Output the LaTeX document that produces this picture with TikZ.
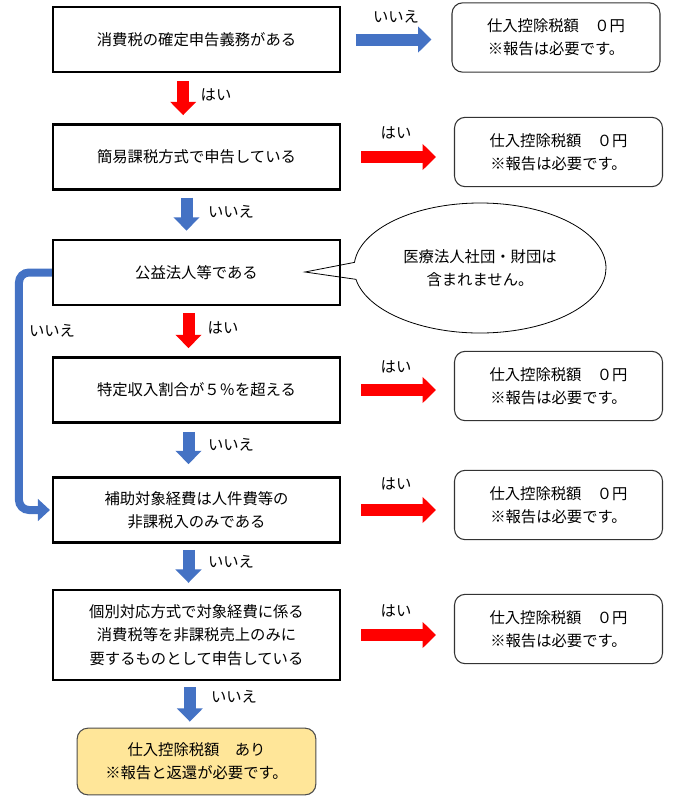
\documentclass[tikz,border=0pt]{standalone}
\usepackage{fontspec}
\setmainfont{Noto Sans CJK JP}
\usetikzlibrary{arrows.meta,shapes.callouts}
\definecolor{yesred}{HTML}{FF0000}
\definecolor{noblue}{HTML}{4472C4}
\definecolor{endfill}{HTML}{FFE699}
\begin{document}
\begin{tikzpicture}[x=0.75pt,y=-0.75pt,font=\fontsize{11.5}{17.5}\selectfont,
  step node/.style={rectangle,draw,line width=1.8pt,minimum width=215pt,minimum height=49pt,align=center},
  result node/.style={rectangle,rounded corners=8pt,draw=black!80,line width=0.8pt,minimum width=156pt,minimum height=52pt,align=center},
  yes arrow/.style={draw=yesred,line width=9pt,-{Triangle[length=10pt,width=19pt]}},
  no arrow/.style={draw=noblue,line width=9pt,-{Triangle[length=10pt,width=19pt]}},
  answer/.style={inner sep=1pt}]

  \useasboundingbox (0,0) rectangle (675,800);

  % questions
  \node[step node] (q1) at (196.5,39.5) {消費税の確定申告義務がある};
  \node[step node] (q2) at (196.5,157) {簡易課税方式で申告している};
  \node[step node] (q3) at (196.5,272.5) {公益法人等である};
  \node[step node] (q4) at (196.5,390) {特定収入割合が５％を超える};
  \node[step node] (q5) at (196.5,510) {補助対象経費は人件費等の\\非課税入のみである};
  \node[step node,minimum height=67.5pt] (q6) at (196.5,635) {個別対応方式で対象経費に係る\\消費税等を非課税売上のみに\\要するものとして申告している};

  % results
  \node[result node] (r1) at (556,37.5) {仕入控除税額　０円\\※報告は必要です。};
  \node[result node] (r2) at (558.5,152) {仕入控除税額　０円\\※報告は必要です。};
  \node[result node] (r4) at (558.5,386) {仕入控除税額　０円\\※報告は必要です。};
  \node[result node] (r5) at (558.5,505) {仕入控除税額　０円\\※報告は必要です。};
  \node[result node] (r6) at (558.5,629) {仕入控除税額　０円\\※報告は必要です。};
  \node[result node,fill=endfill,draw=black!70,minimum width=179pt,minimum height=50pt] (fin) at (196.5,761.5) {仕入控除税額　あり\\※報告と返還が必要です。};

  % note
  \node[ellipse callout,draw,line width=0.6pt,minimum width=189pt,minimum height=97.5pt,align=center,
    callout absolute pointer={(305,272)}] (note) at (480,268) {医療法人社団・財団は\\含まれません。};

  % right arrows
  \draw[no arrow,shorten <=11pt,shorten >=15pt] (q1.east) -- (r1.west|-q1.east);
  \draw[yes arrow,shorten <=15pt,shorten >=13.5pt] (q2.east) -- (r2.west|-q2.east);
  \draw[yes arrow,shorten <=15pt,shorten >=13.5pt] (q4.east) -- (r4.west|-q4.east);
  \draw[yes arrow,shorten <=15pt,shorten >=13.5pt] (q5.east) -- (r5.west|-q5.east);
  \draw[yes arrow,shorten <=15pt,shorten >=13.5pt] (q6.east) -- (r6.west|-q6.east);

  % down arrows
  \draw[yes arrow,shorten <=6pt,shorten >=6pt] ([xshift=-10pt]q1.south) -- ([xshift=-10pt]q2.north);
  \draw[no arrow,shorten <=5pt,shorten >=6pt] ([xshift=-7.5pt]q2.south) -- ([xshift=-7.5pt]q3.north);
  \draw[yes arrow,shorten <=5pt,shorten >=6pt] ([xshift=-6pt]q3.south) -- ([xshift=-6pt]q4.north);
  \draw[no arrow,shorten <=6pt,shorten >=9pt] ([xshift=-6pt]q4.south) -- ([xshift=-6pt]q5.north);
  \draw[no arrow,shorten <=4.5pt,shorten >=4.5pt] ([xshift=-6pt]q5.south) -- ([xshift=-6pt]q6.north);
  \draw[no arrow,shorten <=4.5pt,shorten >=4.5pt] ([xshift=-5pt]q6.south) -- ([xshift=-5pt]fin.north);

  % skip arrow
  \draw[noblue,line width=6pt,rounded corners=7.5pt,-{Triangle[length=9pt,width=16pt]},shorten >=1.5pt]
    (q3.west) -- ++(-33,0) |- (q5.west);

  % answers
  \node[answer] (a1) at (396,17) {いいえ};
  \node[answer] (a2) at (216,95) {はい};
  \node[answer] (a3) at (396,133) {はい};
  \node[answer] (a4) at (231,212) {いいえ};
  \node[answer] (a5) at (223,328) {はい};
  \node[answer] (a6) at (396,367) {はい};
  \node[answer] (a7) at (231,445) {いいえ};
  \node[answer] (a8) at (396,484) {はい};
  \node[answer] (a9) at (231,562) {いいえ};
  \node[answer] (a10) at (396,611) {はい};
  \node[answer] (a11) at (234,697) {いいえ};
  \node[answer] (a12) at (52,331) {いいえ};
\end{tikzpicture}
\end{document}
